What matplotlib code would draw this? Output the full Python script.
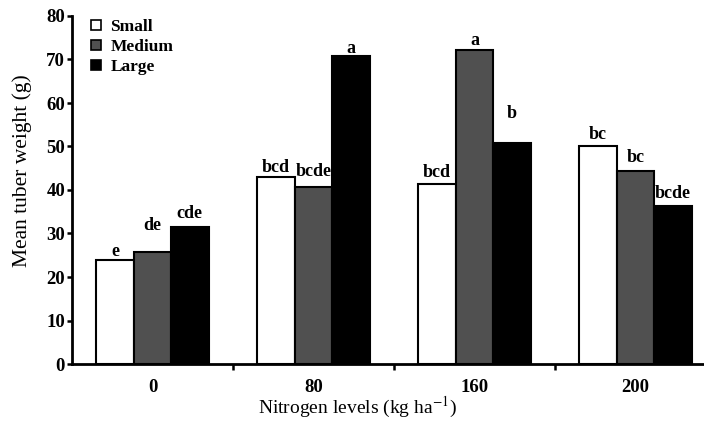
import matplotlib
matplotlib.use('Agg')
import matplotlib.pyplot as plt
from matplotlib.patches import Patch
import numpy as np

plt.rcParams['font.family'] = ['Liberation Serif', 'DejaVu Serif']
plt.rcParams['mathtext.fontset'] = 'stix'

nitrogen_levels = ['0', '80', '160', '200']
sizes = ['Small', 'Medium', 'Large']
small = [23.9, 43.0, 41.4, 50.1]
medium = [25.8, 40.8, 72.2, 44.4]
large = [31.6, 70.9, 50.9, 36.3]
small_letters = ['e', 'bcd', 'bcd', 'bc']
medium_letters = ['de', 'bcde', 'a', 'bc']
large_letters = ['cde', 'a', 'b', 'bcde']

colors = ['white', '#505050', 'black']
# gap in pixels between bar top and letter baseline
small_gap = [4, 5, 7, 7]
medium_gap = [22, 11, 5, 9]
large_gap = [9, 3, 25, 8]

W, H = 704, 423
fig = plt.figure(figsize=(W / 100, H / 100), dpi=100)
ax = fig.add_axes([72 / W, 59 / H, 644 / W, 348 / H])

x = np.arange(len(nitrogen_levels))
width = 0.232
series = [small, medium, large]
letters = [small_letters, medium_letters, large_letters]
gaps = [small_gap, medium_gap, large_gap]

for i, values in enumerate(series):
    pos = x + (i - 1) * width
    ax.bar(pos, values, width, color=colors[i], edgecolor='black', linewidth=1.5, zorder=2)
    for px, v, lab, g in zip(pos, values, letters[i], gaps[i]):
        ax.annotate(lab, (px, v), xytext=(0, g), textcoords='offset pixels',
                    ha='center', va='baseline', fontsize=13, fontweight='bold')

ax.set_xlim(-0.5, 3.5)
ax.set_ylim(0, 80)
ax.spines['top'].set_visible(False)
ax.spines['right'].set_visible(False)
ax.spines['left'].set_linewidth(2)
ax.spines['bottom'].set_linewidth(2)

ax.set_yticks(range(0, 81, 10))
ax.tick_params(axis='y', length=3.5, width=1.8, pad=1.5, labelsize=13.5)
for t in ax.get_yticklabels():
    t.set_fontweight('bold')

ax.set_xticks([0.5, 1.5, 2.5])
ax.set_xticklabels([])
ax.tick_params(axis='x', which='major', length=4.5, width=1.8)
ax.set_xticks(x, minor=True)
ax.set_xticklabels(nitrogen_levels, minor=True)
ax.tick_params(axis='x', which='minor', length=0, pad=10.5, labelsize=13.5)
for t in ax.get_xticklabels(minor=True):
    t.set_fontweight('bold')

handles = [Patch(facecolor=c, edgecolor='black', linewidth=1.2) for c in colors]
ax.legend(handles, sizes, loc='upper left', bbox_to_anchor=(0.03, 0.991),
          frameon=False, handlelength=0.55, handleheight=0.55, handletextpad=0.55,
          labelspacing=0.23, borderaxespad=0, borderpad=0,
          prop={'weight': 'bold', 'size': 12.5})

fig.text(357 / W, (H - 413) / H, r'Nitrogen levels (kg ha$^{-1}$)',
         ha='center', va='baseline', fontsize=14)
fig.text(22 / W, (H - 171) / H, 'Mean tuber weight (g)', rotation=90,
         ha='center', va='center', fontsize=15.5)

fig.savefig('out.png', dpi=100)
